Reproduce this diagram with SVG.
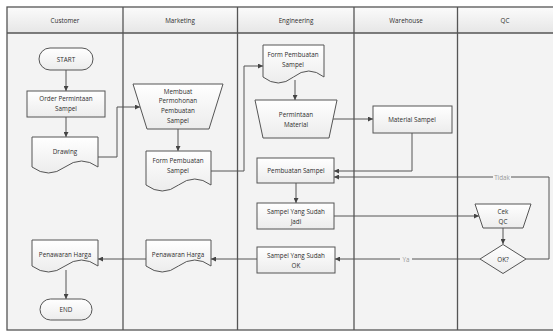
<svg xmlns="http://www.w3.org/2000/svg" width="553" height="332" viewBox="0 0 553 332">
<defs>
<linearGradient id="hdr" x1="0" y1="0" x2="0" y2="1"><stop offset="0" stop-color="#fbfbfb"/><stop offset="1" stop-color="#e6e6e6"/></linearGradient>
<linearGradient id="nd" x1="0" y1="0" x2="0" y2="1"><stop offset="0" stop-color="#ffffff"/><stop offset="1" stop-color="#ececec"/></linearGradient>
<marker id="ah" viewBox="0 0 10 10" refX="10" refY="5" markerWidth="5" markerHeight="5" orient="auto-start-reverse" markerUnits="userSpaceOnUse"><path d="M0,0 L10,5 L0,10 z" fill="#444"/></marker>
<style>
text{font-family:"Open Sans","Liberation Sans",sans-serif;font-size:6.3px;fill:#2e2e2e;text-anchor:middle;dominant-baseline:central}
.s{fill:url(#nd);stroke:#555;stroke-width:1}
.c{fill:none;stroke:#555;stroke-width:1}
.a{marker-end:url(#ah)}
.lane{stroke:#555;stroke-width:1.3;fill:none}
.lbl{fill:#999}
</style>
</defs>
<g id="pool">
<rect x="7" y="7" width="546" height="323" fill="#f3f3f3"/>
<rect x="7" y="7" width="546" height="26" fill="url(#hdr)"/>
<line class="lane" x1="7" y1="33" x2="553" y2="33" stroke-width="1.6"/>
<rect class="lane" x="7" y="7" width="548" height="323"/>
<line class="lane" x1="123" y1="7" x2="123" y2="330"/>
<line class="lane" x1="237.5" y1="7" x2="237.5" y2="330"/>
<line class="lane" x1="354" y1="7" x2="354" y2="330"/>
<line class="lane" x1="457.5" y1="7" x2="457.5" y2="330"/>
<text x="65" y="20">Customer</text>
<text x="180" y="20">Marketing</text>
<text x="296" y="20">Engineering</text>
<text x="406" y="20">Warehouse</text>
<text x="505" y="20">QC</text>
</g>
<g id="connectors">
<path class="c a" d="M66,70 V91"/>
<path class="c a" d="M66,117 V137"/>
<path class="c a" d="M98,157 H117 V107 H140"/>
<path class="c a" d="M178,129 V151"/>
<path class="c a" d="M211,171 H244 V66 H263"/>
<path class="c a" d="M295,80 V100"/>
<path class="c a" d="M333,119 H373"/>
<path class="c a" d="M412,133 V171 H334"/>
<path class="c a" d="M296,183 V203"/>
<path class="c a" d="M334,216 H479"/>
<path class="c a" d="M503,228 V244"/>
<path class="c a" d="M480,259 H335"/>
<path class="c a" d="M526,259 H549 V177 H334"/>
<path class="c a" d="M257,259 H211"/>
<path class="c a" d="M146,259 H98"/>
<path class="c a" d="M66,270 V299"/>
<rect x="493" y="174" width="18" height="6" fill="#f3f3f3"/>
<text class="lbl" x="502" y="177">Tidak</text>
<rect x="400" y="256" width="12" height="6" fill="#f3f3f3"/>
<text class="lbl" x="406" y="259">Ya</text>
</g>
<g id="start"><rect class="s" x="39" y="48" width="54" height="22" rx="11"/><text x="66" y="59">START</text></g>
<g id="order"><rect class="s" x="27" y="91" width="78" height="26"/><text x="66" y="98">Order Permintaan</text><text x="66" y="108">Sampel</text></g>
<g id="drawing"><path class="s" d="M32,137 H98 V167 Q81.5,155 65,167 T32,167 Z"/><text x="65" y="151">Drawing</text></g>
<g id="membuat"><path class="s" d="M133,84 H223 L209,129 H147 Z"/><text x="178" y="91">Membuat</text><text x="178" y="100.5">Permohonan</text><text x="178" y="110.5">Pembuatan</text><text x="178" y="120.5">Sampel</text></g>
<g id="form-mkt"><path class="s" d="M146,151 H211 V185 Q194.75,173 178.5,185 T146,185 Z"/><text x="178" y="160">Form Pembuatan</text><text x="178" y="170.5">Sampel</text></g>
<g id="form-eng"><path class="s" d="M263,45 H324 V77 Q308.75,65 293.5,77 T263,77 Z"/><text x="293" y="54">Form Pembuatan</text><text x="293" y="64">Sampel</text></g>
<g id="permintaan"><path class="s" d="M255,100 H337 L329,138 H263 Z"/><text x="296" y="114">Permintaan</text><text x="296" y="124">Material</text></g>
<g id="material"><rect class="s" x="373" y="106" width="79" height="27"/><text x="412" y="119.5">Material Sampel</text></g>
<g id="pembuatan"><rect class="s" x="257" y="158" width="77" height="25"/><text x="296" y="170.5">Pembuatan Sampel</text></g>
<g id="jadi"><rect class="s" x="257" y="203" width="77" height="26"/><text x="296" y="211">Sampel Yang Sudah</text><text x="296" y="221">Jadi</text></g>
<g id="cekqc"><path class="s" d="M475,204 H531 L523,228 H483 Z"/><text x="503" y="211">Cek</text><text x="503" y="221">QC</text></g>
<g id="ok"><path class="s" d="M503,244.5 L526,259 L503,273.5 L480,259 Z"/><text x="503" y="259">OK?</text></g>
<g id="sampel-ok"><rect class="s" x="257" y="247" width="78" height="26"/><text x="296" y="255">Sampel Yang Sudah</text><text x="296" y="265">OK</text></g>
<g id="penawaran-mkt"><path class="s" d="M146,240 H211 V266 Q194.75,254 178.5,266 T146,266 Z"/><text x="178" y="254">Penawaran Harga</text></g>
<g id="penawaran-cust"><path class="s" d="M32,240 H98 V266 Q81.5,254 65,266 T32,266 Z"/><text x="65" y="254">Penawaran Harga</text></g>
<g id="end"><rect class="s" x="40" y="299" width="52" height="21" rx="10.5"/><text x="66" y="309.5">END</text></g>
</svg>
